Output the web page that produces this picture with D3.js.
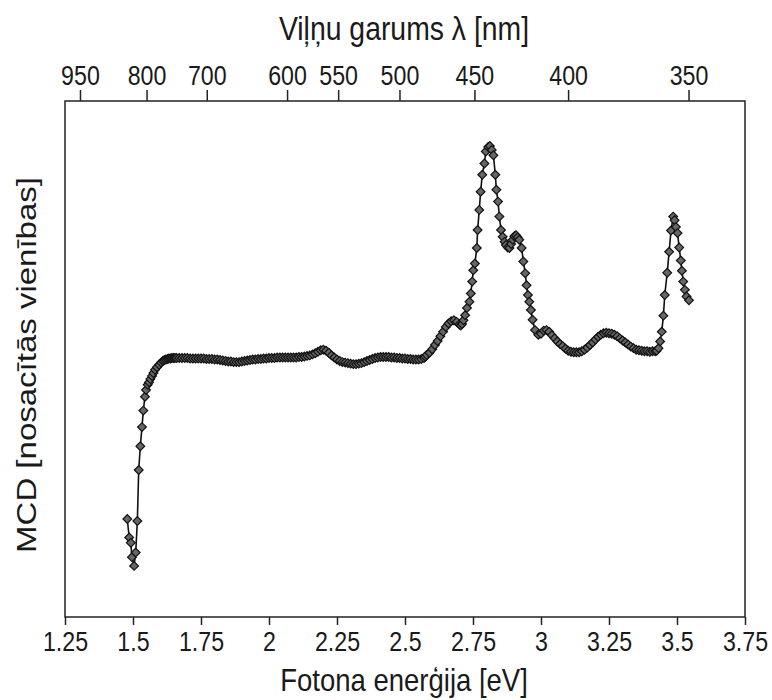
<!DOCTYPE html>
<html>
<head>
<meta charset="utf-8">
<script src="https://cdn.jsdelivr.net/npm/d3@7"></script>
<style>
  body { margin: 0; background: #fff; }
  text { font-family: "Liberation Sans", Arial, sans-serif; fill: #1a1a1a; }
</style>
</head>
<body>
<svg id="chart"></svg>
<script>
// photon energy [eV]
const energy = [
  1.479, 1.486, 1.492, 1.496, 1.504, 1.510, 1.516, 1.521, 1.527, 1.533,
  1.538, 1.544, 1.548, 1.554, 1.559, 1.564, 1.570, 1.575, 1.581, 1.588,
  1.596, 1.603, 1.610, 1.615, 1.621, 1.627, 1.632, 1.638, 1.643, 1.649,
  1.654, 1.66, 1.67, 1.68, 1.69, 1.70, 1.71, 1.72, 1.73, 1.74,
  1.75, 1.76, 1.77, 1.78, 1.79, 1.80, 1.81, 1.82, 1.83, 1.84,
  1.85, 1.86, 1.87, 1.88, 1.89, 1.90, 1.91, 1.92, 1.93, 1.94,
  1.95, 1.96, 1.97, 1.98, 1.99, 2.00, 2.01, 2.02, 2.03, 2.04,
  2.05, 2.06, 2.07, 2.08, 2.09, 2.10, 2.11, 2.12, 2.13, 2.14,
  2.15, 2.16, 2.17, 2.18, 2.19, 2.20, 2.21, 2.22, 2.23, 2.24,
  2.25, 2.26, 2.27, 2.28, 2.29, 2.30, 2.31, 2.32, 2.33, 2.34,
  2.35, 2.36, 2.37, 2.38, 2.39, 2.40, 2.41, 2.42, 2.43, 2.44,
  2.45, 2.46, 2.47, 2.48, 2.49, 2.50, 2.51, 2.52, 2.53, 2.54,
  2.55, 2.56, 2.57, 2.575, 2.58, 2.59, 2.60, 2.61, 2.62, 2.63,
  2.64, 2.65, 2.66, 2.67, 2.68, 2.69, 2.70, 2.705, 2.71, 2.715,
  2.721, 2.728, 2.737, 2.742, 2.747, 2.751, 2.757, 2.764, 2.767, 2.773,
  2.778, 2.784, 2.792, 2.797, 2.806, 2.812, 2.819, 2.825, 2.832, 2.836,
  2.842, 2.847, 2.853, 2.859, 2.866, 2.871, 2.878, 2.884, 2.890, 2.896,
  2.902, 2.908, 2.914, 2.920, 2.929, 2.935, 2.942, 2.947, 2.952, 2.957,
  2.963, 2.969, 2.978, 2.99, 3.00, 3.01, 3.02, 3.03, 3.04, 3.05,
  3.06, 3.07, 3.08, 3.09, 3.10, 3.11, 3.12, 3.13, 3.14, 3.15,
  3.16, 3.17, 3.18, 3.19, 3.20, 3.21, 3.22, 3.23, 3.24, 3.25,
  3.26, 3.27, 3.28, 3.29, 3.30, 3.31, 3.32, 3.33, 3.34, 3.35,
  3.36, 3.37, 3.38, 3.39, 3.40, 3.41, 3.42, 3.425, 3.432, 3.438,
  3.444, 3.450, 3.455, 3.464, 3.471, 3.478, 3.486, 3.491, 3.496, 3.502,
  3.508, 3.514, 3.518, 3.523, 3.529, 3.535, 3.544
];

// MCD, arbitrary units (same order as energy)
const mcd = [
  -3.10, -3.46, -3.56, -3.84, -4.01, -3.75, -3.14, -2.15, -1.69, -1.32,
  -1.00, -0.73, -0.60, -0.50, -0.45, -0.39, -0.33, -0.27, -0.21, -0.16,
  -0.11, -0.07, -0.04, -0.02, -0.01, 0.00, 0.01, 0.01, 0.02, 0.02,
  0.02, 0.02, 0.02, 0.02, 0.02, 0.02, 0.01, 0.01, 0.01, 0.01,
  0.01, 0.01, 0.00, 0.00, 0.00, -0.01, -0.01, -0.02, -0.03, -0.04,
  -0.05, -0.05, -0.06, -0.06, -0.06, -0.05, -0.04, -0.03, -0.02, -0.01,
  -0.01, 0.00, 0.00, 0.01, 0.01, 0.02, 0.02, 0.02, 0.03, 0.03,
  0.03, 0.03, 0.03, 0.03, 0.03, 0.03, 0.04, 0.04, 0.05, 0.06,
  0.07, 0.09, 0.11, 0.14, 0.17, 0.18, 0.16, 0.12, 0.07, 0.03,
  -0.01, -0.04, -0.06, -0.07, -0.08, -0.09, -0.10, -0.10, -0.09, -0.08,
  -0.06, -0.04, -0.02, 0.00, 0.02, 0.03, 0.04, 0.04, 0.04, 0.04,
  0.03, 0.03, 0.02, 0.02, 0.01, 0.01, 0.00, 0.00, -0.01, -0.01,
  -0.01, 0.00, 0.02, 0.05, 0.08, 0.12, 0.19, 0.27, 0.35, 0.44,
  0.53, 0.62, 0.69, 0.73, 0.75, 0.72, 0.67, 0.65, 0.68, 0.75,
  0.85, 0.99, 1.11, 1.27, 1.50, 1.72, 1.85, 2.15, 2.50, 2.89,
  3.24, 3.57, 3.79, 4.02, 4.11, 4.13, 4.05, 3.95, 3.57, 3.28,
  3.05, 2.76, 2.50, 2.37, 2.27, 2.21, 2.16, 2.15, 2.23, 2.31,
  2.38, 2.40, 2.36, 2.31, 2.15, 1.89, 1.66, 1.43, 1.24, 1.11,
  0.95, 0.76, 0.56, 0.47, 0.49, 0.55, 0.56, 0.53, 0.46, 0.40,
  0.34, 0.29, 0.25, 0.20, 0.16, 0.14, 0.13, 0.13, 0.13, 0.15,
  0.18, 0.22, 0.27, 0.32, 0.38, 0.43, 0.47, 0.50, 0.51, 0.50,
  0.49, 0.47, 0.44, 0.40, 0.36, 0.32, 0.28, 0.24, 0.21, 0.18,
  0.17, 0.16, 0.15, 0.15, 0.14, 0.15, 0.15, 0.16, 0.21, 0.34,
  0.53, 0.84, 1.24, 1.67, 2.08, 2.49, 2.76, 2.69, 2.56, 2.44,
  2.16, 1.91, 1.71, 1.50, 1.34, 1.21, 1.14
];

const energyTicks = [1.25, 1.5, 1.75, 2, 2.25, 2.5, 2.75, 3, 3.25, 3.5, 3.75];
const wavelengthTicks = [950, 800, 700, 600, 550, 500, 450, 400, 350];

const hc = 1239.84; // eV*nm
const width = 772;
const height = 700;
const margin = { top: 101, right: 27, bottom: 83, left: 65 };
const squeeze = 0.86; // the original figure is a bit narrow

const svg = d3.select('#chart').attr('width', width).attr('height', height);

const x = d3.scaleLinear().domain([1.25, 3.75]).range([margin.left, width - margin.right]);
const y = d3.scaleLinear().domain([-5, 5]).range([height - margin.bottom, margin.top]);

// bottom axis
const xAxis = d3.axisBottom(x).tickValues(energyTicks).tickSize(8).tickPadding(7)
  .tickFormat((d) => String(d));

const gx = svg.append('g')
  .attr('transform', `translate(0, ${height - margin.bottom})`)
  .call(xAxis);
gx.select('.domain').remove();
gx.selectAll('line').attr('stroke', '#222').attr('stroke-width', 1.5);
gx.selectAll('text')
  .attr('font-size', '27px')
  .attr('fill', '#1a1a1a')
  .attr('transform', `scale(${squeeze},1)`);

// top axis in wavelength
const topAxis = d3.axisTop(x)
  .tickValues(wavelengthTicks.map((l) => hc / l))
  .tickSize(11).tickPadding(5)
  .tickFormat((d, i) => wavelengthTicks[i]);

const gt = svg.append('g')
  .attr('transform', `translate(0, ${margin.top})`)
  .call(topAxis);
gt.select('.domain').remove();
gt.selectAll('line').attr('stroke', '#222').attr('stroke-width', 1.5);
gt.selectAll('text')
  .attr('font-size', '27px')
  .attr('fill', '#1a1a1a')
  .attr('transform', `scale(${squeeze},1)`);

// frame
svg.append('rect')
  .attr('x', margin.left)
  .attr('y', margin.top)
  .attr('width', width - margin.left - margin.right)
  .attr('height', height - margin.top - margin.bottom)
  .attr('fill', 'none')
  .attr('stroke', '#222')
  .attr('stroke-width', 1.5);

// titles
svg.append('text')
  .attr('transform', `translate(404, 40) scale(${squeeze},1)`)
  .attr('text-anchor', 'middle')
  .attr('font-size', '33px')
  .text('Viļņu garums λ [nm]');

svg.append('text')
  .attr('transform', `translate(404, 691) scale(${squeeze},1)`)
  .attr('text-anchor', 'middle')
  .attr('font-size', '32px')
  .text('Fotona enerģija [eV]');

svg.append('text')
  .attr('transform', `translate(36, 365) rotate(-90) scale(1,${squeeze})`)
  .attr('text-anchor', 'middle')
  .attr('font-size', '33px')
  .text('MCD [nosacītās vienības]');

// curve + markers
const idx = d3.range(energy.length);

const line = d3.line()
  .x((i) => x(energy[i]))
  .y((i) => y(mcd[i]));

svg.append('path')
  .datum(idx)
  .attr('d', line)
  .attr('fill', 'none')
  .attr('stroke', '#111')
  .attr('stroke-width', 1.6);

const marker = d3.symbol(d3.symbolSquare, 38);

svg.append('g')
  .selectAll('path')
  .data(idx)
  .enter()
  .append('path')
  .attr('d', marker)
  .attr('transform', (i) => `translate(${x(energy[i])}, ${y(mcd[i])}) rotate(45)`)
  .attr('fill', '#666')
  .attr('stroke', '#111')
  .attr('stroke-width', 1.2);
</script>
</body>
</html>
